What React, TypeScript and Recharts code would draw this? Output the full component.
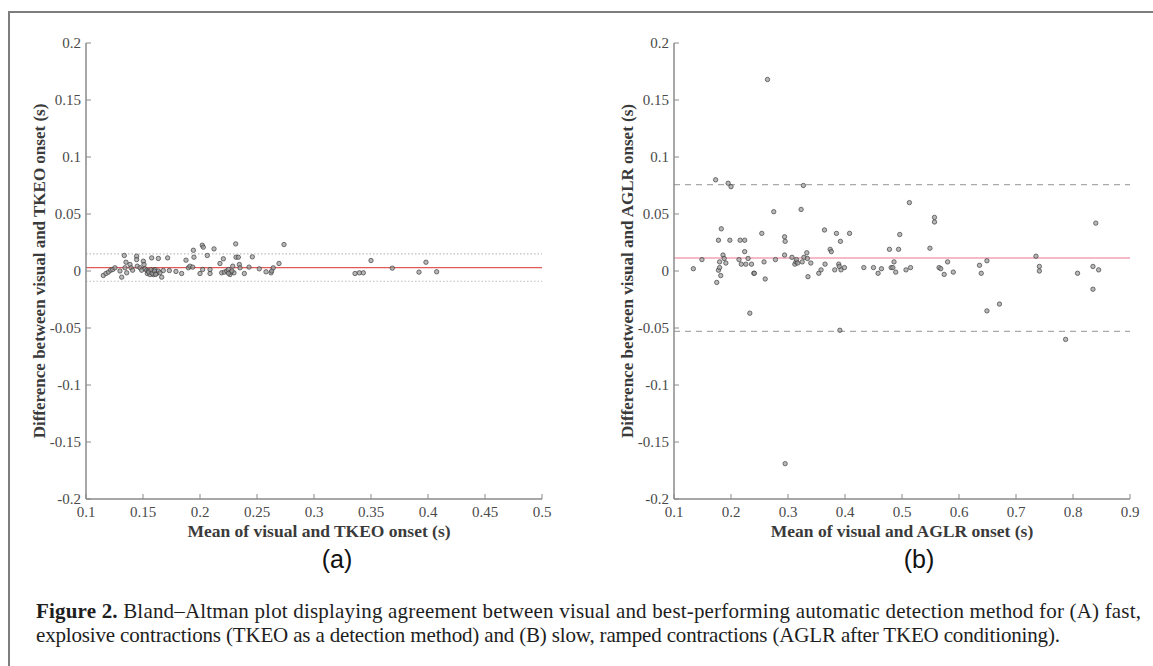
import React from 'react';
import { ScatterChart, Scatter, XAxis, YAxis, ReferenceLine } from 'recharts';

// ---- Panel (a): TKEO ----
const tkeoMeanValues = [
  0.1152, 0.1175, 0.1196, 0.1216, 0.1234, 0.1254, 0.1298, 0.1313, 0.1336, 0.1342,
  0.1351, 0.1357, 0.1386, 0.1395, 0.1409, 0.1444, 0.1444, 0.145, 0.1474, 0.1488,
  0.1503, 0.1509, 0.1518, 0.1532, 0.1538, 0.1547, 0.1561, 0.1576, 0.1585, 0.1591,
  0.1605, 0.162, 0.1635, 0.1635, 0.1649, 0.1664, 0.1678, 0.1716, 0.1731, 0.1789,
  0.1839, 0.1877, 0.1898, 0.1912, 0.1936, 0.1942, 0.1947, 0.2, 0.202, 0.2029,
  0.2023, 0.2064, 0.2088, 0.2088, 0.2123, 0.2175, 0.219, 0.2205, 0.2213, 0.2234,
  0.2249, 0.2263, 0.2287, 0.2298, 0.2313, 0.2316, 0.2336, 0.2345, 0.2351, 0.2389,
  0.243, 0.2459, 0.252, 0.2579, 0.2623, 0.2629, 0.2643, 0.2693, 0.2737, 0.336,
  0.3398, 0.3433, 0.35, 0.3687, 0.3921, 0.3982, 0.4076, 0.155, 0.157, 0.158,
  0.16, 0.161, 0.227, 0.228, 0.225,
];
const tkeoDiffValues = [
  -0.0039, -0.0022, -0.001, 0.0007, 0.0013, 0.0028, 0.0, -0.0054, 0.0136, 0.0028,
  0.0077, -0.0016, 0.0057, 0.0028, 0.0007, 0.013, 0.010, 0.0042, 0.0028, 0.0007,
  0.0086, 0.0057, 0.0019, 0.0007, -0.0022, 0.0, -0.0031, 0.0115, 0.0, -0.0031,
  0.0013, -0.0022, 0.011, 0.0, -0.0016, -0.0054, 0.0004, 0.0115, 0.0004, -0.0004,
  -0.0022, 0.0095, 0.0028, 0.0042, 0.0034, 0.0182, 0.0121, -0.0022, 0.0226, 0.0209,
  0.0013, 0.0136, -0.0022, 0.0013, 0.0194, 0.0066, -0.0016, 0.0107, -0.001, 0.0,
  0.0013, -0.0031, 0.0042, -0.0016, 0.0238, 0.0121, 0.0121, 0.0057, 0.0028, -0.0022,
  0.0034, 0.0124, 0.0019, -0.0007, -0.0016, 0.0, 0.0028, 0.0066, 0.0232, -0.0022,
  -0.0016, -0.0016, 0.0092, 0.0025, -0.001, 0.0077, -0.0007, -0.001, 0.001, -0.002,
  0.0, -0.003, -0.001, 0.0, -0.002,
];
const tkeoMeanDiff = 0.003;
const tkeoUpperLoA = 0.015;
const tkeoLowerLoA = -0.009;

// ---- Panel (b): AGLR ----
const aglrMeanValues = [
  0.134, 0.149, 0.173, 0.175, 0.178, 0.183, 0.178, 0.18, 0.182, 0.18,
  0.186, 0.188, 0.191, 0.195, 0.2, 0.198, 0.214, 0.216, 0.218, 0.224,
  0.224, 0.226, 0.23, 0.236, 0.24, 0.241, 0.254, 0.258, 0.26, 0.275,
  0.278, 0.294, 0.295, 0.294, 0.307, 0.312, 0.314, 0.315, 0.317, 0.323,
  0.327, 0.325, 0.328, 0.333, 0.334, 0.335, 0.34, 0.354, 0.358, 0.364,
  0.365, 0.374, 0.376, 0.382, 0.385, 0.389, 0.39, 0.392, 0.393, 0.399,
  0.408, 0.433, 0.45, 0.458, 0.464, 0.478, 0.481, 0.484, 0.486, 0.489,
  0.494, 0.496, 0.507, 0.513, 0.515, 0.549, 0.557, 0.557, 0.565, 0.568,
  0.574, 0.58, 0.59, 0.636, 0.639, 0.649, 0.735, 0.741, 0.741, 0.808,
  0.835, 0.845, 0.835, 0.84, 0.233, 0.391, 0.649, 0.671, 0.787, 0.295,
  0.264,
];
const aglrDiffValues = [
  0.002, 0.01, 0.08, -0.01, 0.027, 0.037, 0.0007, 0.003, -0.004, 0.008,
  0.014, 0.011, 0.007, 0.077, 0.074, 0.027, 0.01, 0.027, 0.006, 0.027,
  0.017, 0.006, 0.011, 0.006, -0.002, -0.002, 0.033, 0.008, -0.007, 0.052,
  0.01, 0.03, 0.026, 0.014, 0.012, 0.006, 0.008, 0.01, 0.007, 0.054,
  0.075, 0.008, 0.012, 0.016, 0.011, -0.005, 0.007, -0.002, 0.001, 0.036,
  0.006, 0.019, 0.017, 0.001, 0.033, 0.006, 0.004, 0.026, 0.001, 0.003,
  0.033, 0.003, 0.003, -0.002, 0.002, 0.019, 0.003, 0.003, 0.008, -0.001,
  0.019, 0.032, 0.001, 0.06, 0.003, 0.02, 0.047, 0.043, 0.003, 0.002,
  -0.003, 0.008, -0.001, 0.005, -0.002, 0.009, 0.013, 0.004, 0.0, -0.002,
  0.004, 0.001, -0.016, 0.042, -0.037, -0.052, -0.035, -0.029, -0.06, -0.169,
  0.168,
];
const aglrMeanDiff = 0.0114;
const aglrUpperLoA = 0.0757;
const aglrLowerLoA = -0.053;

// ---- Ticks & labels ----
const yTicks = [-0.2, -0.15, -0.1, -0.05, 0, 0.05, 0.1, 0.15, 0.2];
const tkeoXTicks = [0.1, 0.15, 0.2, 0.25, 0.3, 0.35, 0.4, 0.45, 0.5];
const aglrXTicks = [0.1, 0.2, 0.3, 0.4, 0.5, 0.6, 0.7, 0.8, 0.9];
const tkeoXLabel = 'Mean of visual and TKEO onset (s)';
const tkeoYLabel = 'Difference between visual and TKEO onset (s)';
const aglrXLabel = 'Mean of visual and AGLR onset (s)';
const aglrYLabel = 'Difference between visual and AGLR onset (s)';
const captionBold = 'Figure 2.';
const captionLine1 =
  ' Bland–Altman plot displaying agreement between visual and best-performing automatic detection method for (A) fast,';
const captionLine2 =
  'explosive contractions (TKEO as a detection method) and (B) slow, ramped contractions (AGLR after TKEO conditioning).';

const zip = (xs: number[], ys: number[]) => xs.map((x, i) => ({ x, y: ys[i] }));
const tkeoData = zip(tkeoMeanValues, tkeoDiffValues);
const aglrData = zip(aglrMeanValues, aglrDiffValues);

const SERIF = '"Liberation Serif", "DejaVu Serif", serif';
const SANS = '"Liberation Sans", Arial, sans-serif';
const AXIS_COLOR = '#8a8a8a';
const TICK_TEXT = '#4a4a4a';

const fmt = (v: number) => String(Number(v.toFixed(2)));

const YTick = (props: any) => {
  const { x, y, payload } = props;
  return (
    <g>
      <line x1={x} y1={y} x2={x + 5} y2={y} stroke={AXIS_COLOR} strokeWidth={1} />
      <text x={x - 5} y={y} dy={5} textAnchor="end" fontFamily={SERIF} fontSize={15} fill={TICK_TEXT}>
        {fmt(payload.value)}
      </text>
    </g>
  );
};

const XTick = (props: any) => {
  const { x, y, payload } = props;
  return (
    <g>
      <line x1={x} y1={y} x2={x} y2={y - 5} stroke={AXIS_COLOR} strokeWidth={1} />
      <text x={x} y={y} dy={18} textAnchor="middle" fontFamily={SERIF} fontSize={15} fill={TICK_TEXT}>
        {fmt(payload.value)}
      </text>
    </g>
  );
};

const Dot = (props: any) => {
  const { cx, cy } = props;
  if (cx == null || cy == null) return null;
  return (
    <circle
      cx={cx}
      cy={cy}
      r={2.2}
      fill="#9a9a9a"
      fillOpacity={0.7}
      stroke="#3a3a3a"
      strokeOpacity={0.75}
      strokeWidth={0.9}
    />
  );
};

const W = 580;
const H = 540;
const MARGIN = { top: 43, right: 38, bottom: 11, left: 26 };

function Panel(props: {
  data: { x: number; y: number }[];
  xTicks: number[];
  meanDiff: number;
  upper: number;
  lower: number;
  meanColor: string;
  meanWidth: number;
  loaColor: string;
  loaDash: string;
}) {
  const { data, xTicks } = props;
  return (
    <ScatterChart width={W} height={H} margin={MARGIN}>
      <XAxis
        type="number"
        dataKey="x"
        domain={[xTicks[0], xTicks[xTicks.length - 1]]}
        ticks={xTicks}
        interval={0}
        allowDataOverflow
        height={30}
        tickSize={0}
        tickMargin={0}
        tickLine={false}
        tick={<XTick />}
        axisLine={{ stroke: AXIS_COLOR, strokeWidth: 1.5 }}
      />
      <YAxis
        type="number"
        dataKey="y"
        domain={[-0.2, 0.2]}
        ticks={yTicks}
        interval={0}
        allowDataOverflow
        width={60}
        tickSize={0}
        tickMargin={0}
        tickLine={false}
        tick={<YTick />}
        axisLine={{ stroke: AXIS_COLOR, strokeWidth: 1.5 }}
      />
      <ReferenceLine y={props.upper} stroke={props.loaColor} strokeWidth={1.2} strokeDasharray={props.loaDash} />
      <ReferenceLine y={props.lower} stroke={props.loaColor} strokeWidth={1.2} strokeDasharray={props.loaDash} />
      <ReferenceLine y={props.meanDiff} stroke={props.meanColor} strokeWidth={props.meanWidth} />
      <Scatter data={data} shape={<Dot />} isAnimationActive={false} />
    </ScatterChart>
  );
}

export default function App() {
  return (
    <div style={{ position: 'absolute', left: 0, top: 0, width: 1153, height: 666, overflow: 'hidden', background: '#fff' }}>
      <div
        style={{
          position: 'absolute',
          left: 8,
          top: 11,
          width: 1200,
          height: 700,
          borderTop: '2px solid #7d7d7d',
          borderLeft: '2px solid #7d7d7d',
        }}
      />
      <div style={{ position: 'absolute', left: 0, top: 0 }}>
        <Panel
          data={tkeoData}
          xTicks={tkeoXTicks}
          meanDiff={tkeoMeanDiff}
          upper={tkeoUpperLoA}
          lower={tkeoLowerLoA}
          meanColor="#e05a5a"
          meanWidth={1.2}
          loaColor="#bdbdbd"
          loaDash="1.5 2"
        />
      </div>
      <div style={{ position: 'absolute', left: 588, top: 0 }}>
        <Panel
          data={aglrData}
          xTicks={aglrXTicks}
          meanDiff={aglrMeanDiff}
          upper={aglrUpperLoA}
          lower={aglrLowerLoA}
          meanColor="#f3a3b5"
          meanWidth={1.6}
          loaColor="#a9a9a9"
          loaDash="6 5"
        />
      </div>
      <svg width={1153} height={666} style={{ position: 'absolute', left: 0, top: 0, pointerEvents: 'none' }}>
        <text x={319} y={537} textAnchor="middle" fontFamily={SERIF} fontWeight="bold" fontSize={17.5} fill="#3a3a3a">
          {tkeoXLabel}
        </text>
        <text x={902} y={537} textAnchor="middle" fontFamily={SERIF} fontWeight="bold" fontSize={17.5} fill="#3a3a3a">
          {aglrXLabel}
        </text>
        <text
          transform="translate(45,271) rotate(-90)"
          textAnchor="middle"
          fontFamily={SERIF}
          fontWeight="bold"
          fontSize={17}
          fill="#3a3a3a"
        >
          {tkeoYLabel}
        </text>
        <text
          transform="translate(633,271) rotate(-90)"
          textAnchor="middle"
          fontFamily={SERIF}
          fontWeight="bold"
          fontSize={17}
          fill="#3a3a3a"
        >
          {aglrYLabel}
        </text>
        <text x={337} y={568} textAnchor="middle" fontFamily={SANS} fontSize={25} fill="#111">
          (a)
        </text>
        <text x={919} y={568} textAnchor="middle" fontFamily={SANS} fontSize={25} fill="#111">
          (b)
        </text>
        <text x={36} y={618} fontFamily={SERIF} fontSize={21} fill="#1e1e1e" textLength={1105} lengthAdjust="spacing">
          <tspan fontWeight="bold">{captionBold}</tspan>
          <tspan>{captionLine1}</tspan>
        </text>
        <text x={36} y={642} fontFamily={SERIF} fontSize={21} fill="#1e1e1e" textLength={1024} lengthAdjust="spacing">
          {captionLine2}
        </text>
      </svg>
    </div>
  );
}
